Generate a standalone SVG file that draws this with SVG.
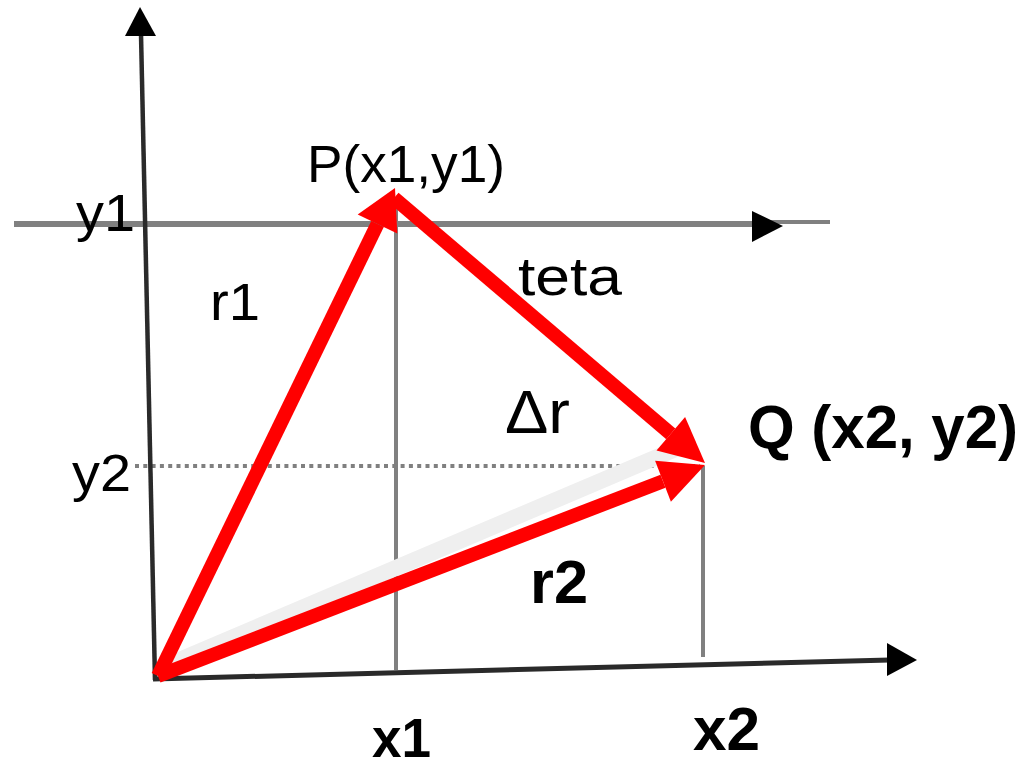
<svg xmlns="http://www.w3.org/2000/svg" width="1033" height="769" viewBox="0 0 1033 769">
<style>
.guide{stroke:#808080;stroke-width:4;fill:none}
.axis{stroke:#2a2a2a;stroke-width:4.5;fill:none}
.head{fill:#000}
.vec{stroke:#ff0000;stroke-width:14;fill:none}
.vhead{fill:#ff0000}
.t{font-family:"Liberation Sans",Arial,sans-serif;fill:#000}
.b{font-weight:bold}
</style>
<rect width="1033" height="769" fill="#fff"/>
<g id="guides">
<line class="guide" x1="14" y1="224" x2="760" y2="224" style="stroke-width:6"/>
<line class="guide" x1="760" y1="222" x2="830" y2="222"/>
<line class="guide" x1="396" y1="200" x2="396" y2="670"/>
<line class="guide" x1="703" y1="466" x2="703" y2="657"/>
<line class="guide" x1="135" y1="466" x2="700" y2="466" stroke-dasharray="4 4.3"/>
<polygon class="head" points="783,226 752,211 752,242"/>
</g>
<g id="axes">
<line class="axis" x1="141" y1="34" x2="155" y2="680"/>
<polygon class="head" points="140,7 125,36 156,36"/>
<line class="axis" x1="153" y1="679" x2="890" y2="660" style="stroke-width:5"/>
<polygon class="head" points="917,660 887,643 887,676"/>
</g>
<g id="shadow">
<line x1="165" y1="666" x2="690" y2="443" stroke="#efefef" stroke-width="16"/>
</g>
<g id="connectors">
<line class="vec" x1="158" y1="676" x2="377.5" y2="224"/>
<polygon class="vhead" points="395,188 397.3,233.6 357.7,214.4"/>
<line class="vec" x1="394" y1="198" x2="670.8" y2="433.8"/>
<polygon class="vhead" points="705,463 656.5,450.5 685.1,417.1"/>
<line class="vec" x1="158" y1="676" x2="663" y2="481.2"/>
<polygon class="vhead" points="705,465 670.9,501.7 655.1,460.7"/>
</g>
<g id="labels">
<text class="t" x="307" y="182" font-size="51" textLength="198" lengthAdjust="spacingAndGlyphs">P(x1,y1)</text>
<text class="t" x="76" y="231" font-size="51" textLength="59" lengthAdjust="spacingAndGlyphs">y1</text>
<text class="t" x="210" y="320" font-size="51" textLength="50" lengthAdjust="spacingAndGlyphs">r1</text>
<text class="t" x="518" y="295" font-size="53" textLength="104" lengthAdjust="spacingAndGlyphs">teta</text>
<text class="t" x="505" y="433" font-size="62" textLength="65" lengthAdjust="spacingAndGlyphs">Δr</text>
<text class="t b" x="748" y="448" font-size="62" textLength="270" lengthAdjust="spacingAndGlyphs">Q (x2, y2)</text>
<text class="t" x="72" y="491" font-size="51" textLength="59" lengthAdjust="spacingAndGlyphs">y2</text>
<text class="t b" x="530" y="603" font-size="62" textLength="58" lengthAdjust="spacingAndGlyphs">r2</text>
<text class="t b" x="372" y="757" font-size="56" textLength="59" lengthAdjust="spacingAndGlyphs">x1</text>
<text class="t b" x="693" y="750" font-size="62" textLength="67" lengthAdjust="spacingAndGlyphs">x2</text>
</g>
</svg>
